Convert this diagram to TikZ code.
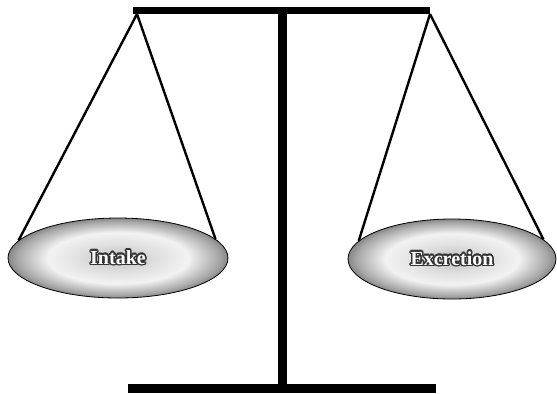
\documentclass[tikz,border=0pt]{standalone}
\usepackage{fontspec}
\setmainfont{Liberation Serif}
\usepackage{tikz}
\usepackage{contour}
\contourlength{0.7pt}
\usetikzlibrary{shapes.geometric}

\pgfdeclareradialshading{panshade}{\pgfpoint{0bp}{0bp}}{%
  color(0bp)=(black!25); color(9bp)=(black!12); color(16bp)=(black!5);
  color(23bp)=(black!35); color(29bp)=(black!72); color(33bp)=(black!95);
  color(50bp)=(black)}

\begin{document}
\begin{tikzpicture}[x=0.5pt,y=-0.5pt,
  pan/.style={ellipse, draw=black, shading=panshade, inner sep=0pt,
    minimum height=40pt, text=white,
    font=\bfseries\fontsize{10}{12}\selectfont},
  rope/.style={line width=1.2pt}]
\useasboundingbox (0,0) rectangle (557,393);

% Post
\draw[line width=4.5pt] (282,12) -- (282,388);

% Beam
\draw[line width=3.5pt] (133,10.5) -- (430,10.5);
\coordinate (lhook) at (137,14);
\coordinate (rhook) at (430,14);

% Base
\draw[line width=4.5pt] (128,388) -- (436,388);

% Pans
\node[pan, minimum width=110pt] (intake) at (118,258) {\contour{black!80}{Intake}};
\node[pan, minimum width=104pt] (excretion) at (452,259) {\contour{black!80}{Excretion}};

% Ropes
\draw[rope] (lhook) -- (intake.170);
\draw[rope] (lhook) -- (intake.11);
\draw[rope] (rhook) -- (excretion.169);
\draw[rope] (rhook) -- (excretion.12);
\end{tikzpicture}
\end{document}
